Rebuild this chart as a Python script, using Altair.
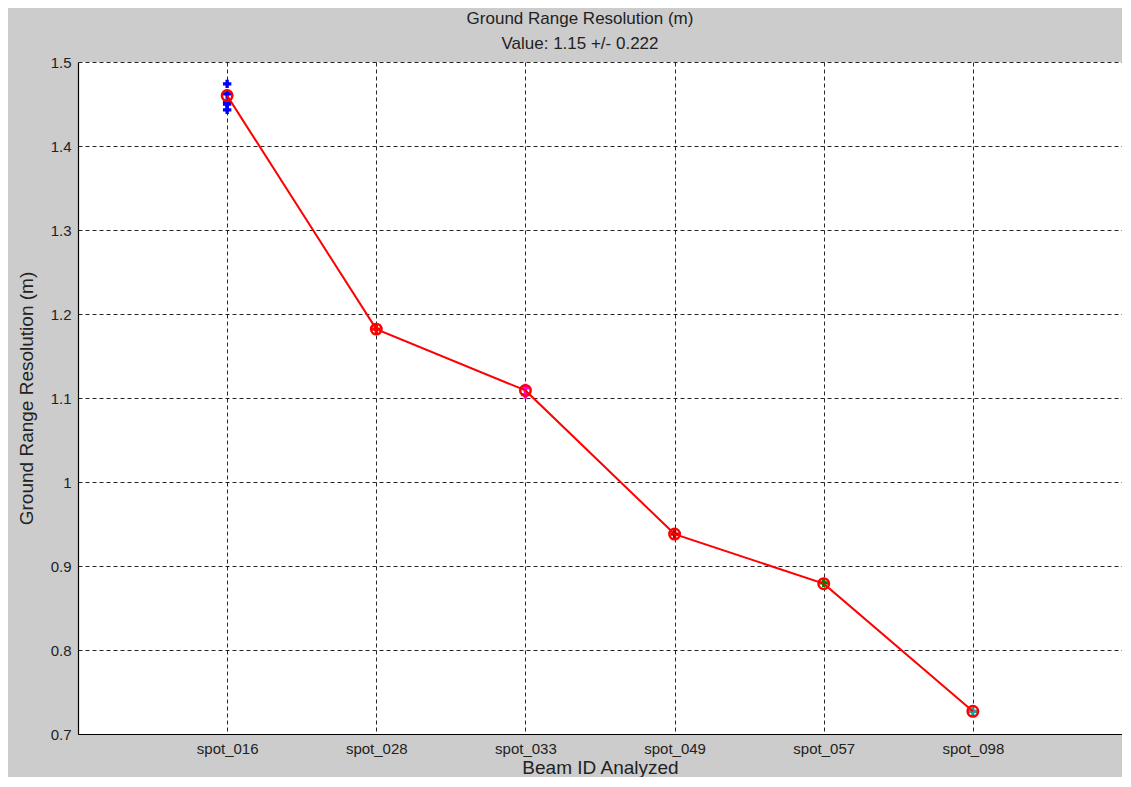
import altair as alt
import pandas as pd

beams = ["spot_016", "spot_028", "spot_033", "spot_049", "spot_057", "spot_098"]
beam_pos = [1, 2, 3, 4, 5, 6]
mean_vals = [1.460, 1.182, 1.109, 0.938, 0.879, 0.727]

# individual measurements (drawn under the mean markers)
meas_pos = [1, 1, 1, 1, 1, 2, 3, 3, 4, 5, 6]
meas_vals = [1.474, 1.462, 1.452, 1.450, 1.443, 1.182, 1.112, 1.104, 0.938, 0.880, 0.727]
meas_colors = ["#0000ff", "#0000ff", "#0000ff", "#0000ff", "#0000ff",
               "#ff0000", "#ff00ff", "#ff00ff", "#bf0000", "#008000", "#20a0a0"]

y_ticks = [0.7, 0.8, 0.9, 1.0, 1.1, 1.2, 1.3, 1.4, 1.5]

title_lines = ["Ground Range Resolution (m)", "Value: 1.15 +/- 0.222"]
title_offsets = [-43, -18]

means = pd.DataFrame({"beam": beams, "pos": beam_pos, "value": mean_vals})
meas = pd.DataFrame({"pos": meas_pos, "value": meas_vals, "color": meas_colors})
titles = pd.DataFrame({"text": title_lines, "dy": title_offsets})

label_expr = "{" + ",".join(f"'{p}':'{b}'" for p, b in zip(beam_pos, beams)) + "}[datum.value]"

FONT = "Liberation Sans"
W, H = 1044, 672

common_axis = dict(grid=True, gridColor="#000000", gridDash=[4, 3], gridOpacity=0.85,
                   ticks=False, domainColor="#000000", domainWidth=1.2,
                   labelColor="#222222", titleColor="#222222",
                   labelFont=FONT, titleFont=FONT, titleFontWeight="normal")

x_enc = alt.X("pos:Q",
              scale=alt.Scale(domain=[0, 7], nice=False),
              axis=alt.Axis(values=beam_pos, labelExpr=label_expr,
                            title="Beam ID Analyzed", titleFontSize=19,
                            titlePadding=2, labelFontSize=15, labelPadding=7,
                            **common_axis))
y_enc = alt.Y("value:Q",
              scale=alt.Scale(domain=[0.7, 1.5], nice=False, zero=False),
              axis=alt.Axis(values=y_ticks, labelExpr="format(datum.value, '~g')",
                            title="Ground Range Resolution (m)", titleFontSize=19,
                            titlePadding=14, labelFontSize=15, labelPadding=7,
                            **common_axis))

pts = alt.Chart(meas).mark_point(shape="cross", filled=True, size=70, opacity=1).encode(
    x=x_enc, y=y_enc,
    color=alt.Color("color:N", scale=None),
)
pts2 = alt.Chart(meas).mark_point(shape="diamond", filled=True, size=35, opacity=1).encode(
    x="pos:Q", y="value:Q",
    color=alt.Color("color:N", scale=None),
)
line = alt.Chart(means).mark_line(color="#ff0000", strokeWidth=2).encode(
    x="pos:Q", y="value:Q")
circ = alt.Chart(means).mark_point(shape="circle", filled=False, color="#ff0000",
                                   size=110, strokeWidth=2.5, opacity=1).encode(
    x="pos:Q", y="value:Q")
ttl = alt.Chart(titles).mark_text(font=FONT, fontSize=17, color="#222222",
                                  baseline="middle", align="center").encode(
    x=alt.value(W / 2 - 20), y=alt.Y("dy:Q", scale=None, axis=None),
    text="text:N")

chart = alt.layer(pts, pts2, line, circ, ttl).properties(
    width=W, height=H,
    padding={"left": 9, "top": 2, "right": 0, "bottom": 0},
    background="#cccccc",
).configure(font=FONT, view=alt.ViewConfig(fill="#ffffff", stroke=None))

chart.save("out.html", embed_options={"renderer": "svg", "actions": False})
